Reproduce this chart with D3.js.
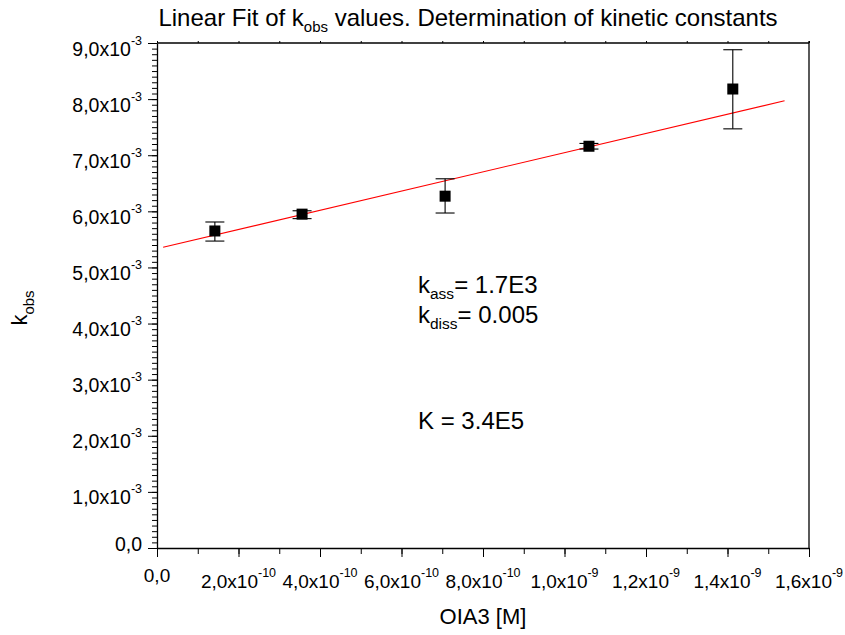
<!DOCTYPE html>
<html>
<head>
<meta charset="utf-8">
<script src="https://cdn.jsdelivr.net/npm/d3@7/dist/d3.min.js"></script>
<style>
  html, body { margin: 0; padding: 0; background: #fff; }
  svg { display: block; }
  text { font-family: "Liberation Sans", Arial, Helvetica, sans-serif; fill: #000; }
</style>
</head>
<body>
<svg id="chart" width="845" height="635"></svg>
<script>
// ---------- data ----------
const concentration = [1.42e-10, 3.56e-10, 7.07e-10, 1.06e-9, 1.413e-9];   // OIA3 [M]
const kobs          = [5.65e-3, 5.95e-3, 6.27e-3, 7.16e-3, 8.18e-3];
const errUpper      = [5.81e-3, 6.01e-3, 6.58e-3, 7.21e-3, 8.88e-3];
const errLower      = [5.47e-3, 5.87e-3, 5.97e-3, 7.11e-3, 7.47e-3];
const fitX          = [1.5e-11, 1.54e-9];
const fitY          = [5.36e-3, 7.97e-3];

const xTickValues   = [0, 2e-10, 4e-10, 6e-10, 8e-10, 1e-9, 1.2e-9, 1.4e-9, 1.6e-9];
const xTickMant     = ["0,0", "2,0x10", "4,0x10", "6,0x10", "8,0x10", "1,0x10", "1,2x10", "1,4x10", "1,6x10"];
const xTickExp      = ["", "-10", "-10", "-10", "-10", "-9", "-9", "-9", "-9"];
const yTickValues   = [0, 1e-3, 2e-3, 3e-3, 4e-3, 5e-3, 6e-3, 7e-3, 8e-3, 9e-3];
const yTickMant     = ["0,0", "1,0x10", "2,0x10", "3,0x10", "4,0x10", "5,0x10", "6,0x10", "7,0x10", "8,0x10", "9,0x10"];
const yTickExp      = ["", "-3", "-3", "-3", "-3", "-3", "-3", "-3", "-3", "-3"];

const annotations = [
  { main: "k", sub: "ass",  rest: "= 1.7E3" },
  { main: "k", sub: "diss", rest: "= 0.005" },
  { main: "K = 3.4E5", sub: "", rest: "" }
];

// ---------- layout ----------
const L = 157, R = 809, T = 43, B = 548;
const svg = d3.select("#chart");

const x = d3.scaleLinear().domain([0, 1.6e-9]).range([L, R]);
const y = d3.scaleLinear().domain([0, 9e-3]).range([B, T]);

const xMinor = d3.range(0, 17).map(i => i * 1e-10);
const yMinor = d3.range(0, 91).map(i => i * 1e-4);

// frame: top and right
svg.append("line").attr("x1", L).attr("x2", R).attr("y1", T).attr("y2", T)
   .attr("stroke", "#000").attr("stroke-width", 1.3);
svg.append("line").attr("x1", R).attr("x2", R).attr("y1", T - 2).attr("y2", B)
   .attr("stroke", "#000").attr("stroke-width", 1.3);

// top small ticks
const topAx = svg.append("g").attr("transform", `translate(0,${T})`)
  .call(d3.axisTop(x).tickValues(xMinor).tickSize(2).tickSizeOuter(0).tickFormat(""));
topAx.select(".domain").remove();

// bottom axis: minor then major
const bMinor = svg.append("g").attr("transform", `translate(0,${B})`)
  .call(d3.axisBottom(x).tickValues(xMinor).tickSize(6).tickSizeOuter(0).tickFormat(""));
bMinor.select(".domain").remove();
const bAx = svg.append("g").attr("transform", `translate(0,${B})`)
  .call(d3.axisBottom(x).tickValues(xTickValues).tickSize(9).tickSizeOuter(0).tickFormat(""));
bAx.select(".domain").attr("stroke-width", 1.3);

// left axis
const lMinor = svg.append("g").attr("transform", `translate(${L},0)`)
  .call(d3.axisLeft(y).tickValues(yMinor).tickSize(5).tickSizeOuter(0).tickFormat(""));
lMinor.select(".domain").remove();
const lAx = svg.append("g").attr("transform", `translate(${L},0)`)
  .call(d3.axisLeft(y).tickValues(yTickValues).tickSize(9).tickSizeOuter(0).tickFormat(""));
lAx.select(".domain").attr("stroke-width", 1.3);
svg.selectAll(".tick line").attr("stroke", "#000");

// x tick labels
const xl = svg.append("g");
xTickValues.forEach((v, i) => {
  const t = xl.append("text")
    .attr("x", x(v)).attr("y", xTickExp[i] ? 588 : 582)
    .attr("text-anchor", "middle").attr("font-size", 19);
  t.append("tspan").text(xTickMant[i]);
  if (xTickExp[i]) t.append("tspan").attr("dy", -11).attr("font-size", 12.5).text(xTickExp[i]);
});

// y tick labels
const yl = svg.append("g");
yTickValues.forEach((v, i) => {
  const t = yl.append("text")
    .attr("x", 142).attr("y", y(v) + (yTickExp[i] ? 12.5 : 3))
    .attr("text-anchor", "end").attr("font-size", 19.5);
  t.append("tspan").text(yTickMant[i]);
  if (yTickExp[i]) t.append("tspan").attr("dy", -11).attr("font-size", 12.5).text(yTickExp[i]);
});

// fit line
svg.append("path")
  .datum(d3.zip(fitX, fitY))
  .attr("d", d3.line().x(d => x(d[0])).y(d => y(d[1])))
  .attr("fill", "none").attr("stroke", "#ff0000").attr("stroke-width", 1.1);

// error bars
const pts = concentration.map((c, i) => ({ c, k: kobs[i], hi: errUpper[i], lo: errLower[i] }));
const eb = svg.append("g").attr("stroke", "#000").attr("stroke-width", 1.1);
eb.selectAll("line.v").data(pts).join("line")
  .attr("x1", d => x(d.c)).attr("x2", d => x(d.c))
  .attr("y1", d => y(d.hi)).attr("y2", d => y(d.lo));
eb.selectAll("line.h").data(pts).join("line")
  .attr("x1", d => x(d.c) - 9.5).attr("x2", d => x(d.c) + 9.5)
  .attr("y1", d => y(d.hi)).attr("y2", d => y(d.hi));
eb.selectAll("line.l").data(pts).join("line")
  .attr("x1", d => x(d.c) - 9.5).attr("x2", d => x(d.c) + 9.5)
  .attr("y1", d => y(d.lo)).attr("y2", d => y(d.lo));

// markers
svg.append("g").selectAll("rect").data(pts).join("rect")
  .attr("x", d => x(d.c) - 5.5).attr("y", d => y(d.k) - 5.5)
  .attr("width", 11).attr("height", 11).attr("fill", "#000");

// title
const title = svg.append("text").attr("x", 468).attr("y", 26)
  .attr("text-anchor", "middle").attr("font-size", 24);
title.append("tspan").text("Linear Fit of k");
title.append("tspan").attr("font-size", 15).attr("dy", 6).text("obs");
title.append("tspan").attr("dy", -6).text(" values. Determination of kinetic constants");

// annotations
const annY = [293, 323, 429];
annotations.forEach((a, i) => {
  const t = svg.append("text").attr("x", 418).attr("y", annY[i]).attr("font-size", 24);
  t.append("tspan").text(a.main);
  if (a.sub) {
    t.append("tspan").attr("font-size", 15.5).attr("dy", 6).text(a.sub);
    t.append("tspan").attr("dy", -6).text(a.rest);
  }
});

// axis titles
svg.append("text").attr("x", 483).attr("y", 624)
  .attr("text-anchor", "middle").attr("font-size", 22).text("OIA3 [M]");

const yt = svg.append("text").attr("transform", "translate(27,308) rotate(-90)")
  .attr("text-anchor", "middle").attr("font-size", 22);
yt.append("tspan").text("k");
yt.append("tspan").attr("font-size", 15).attr("dy", 7).text("obs");
</script>
</body>
</html>
